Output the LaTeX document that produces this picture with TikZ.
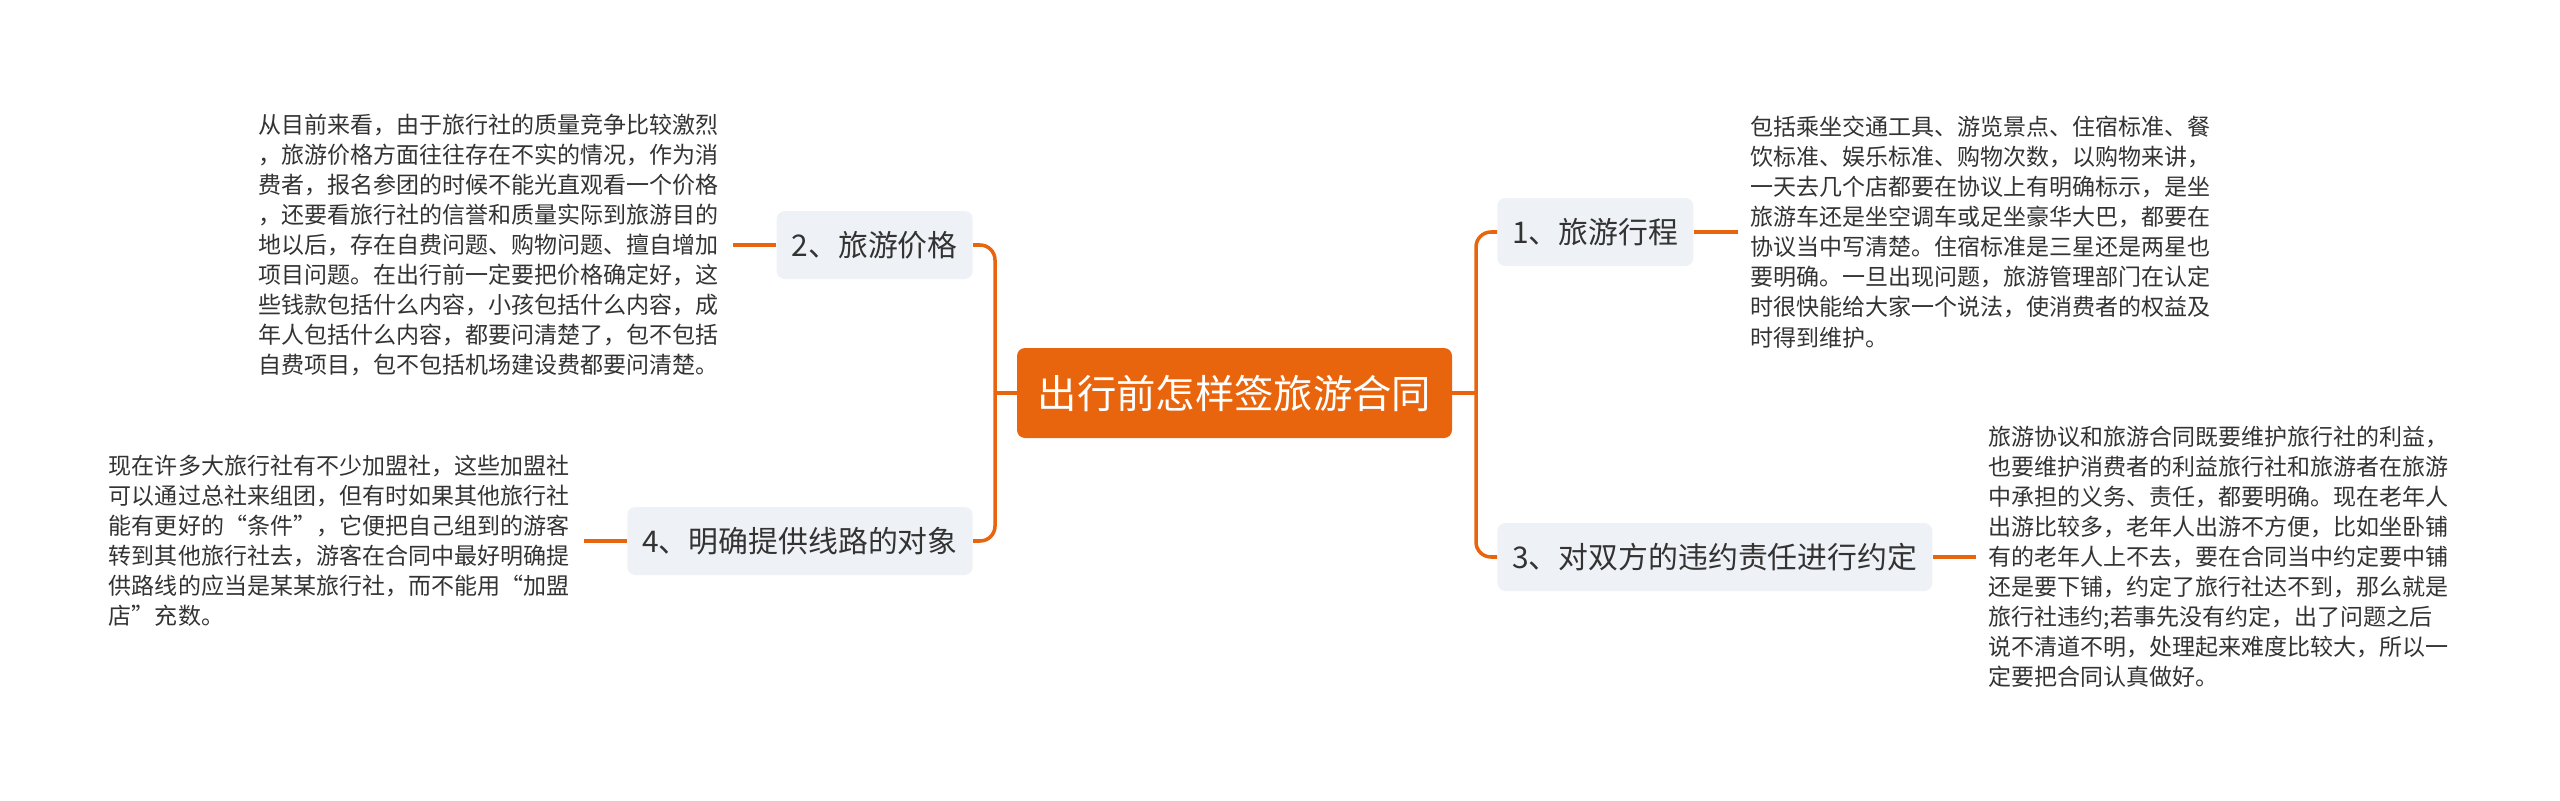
\documentclass[tikz,border=0pt]{standalone}
\usepackage{fontspec}
\setmainfont{Noto Sans CJK SC}
\usetikzlibrary{positioning}
\definecolor{rootfill}{HTML}{E9650D}
\definecolor{linkcolor}{HTML}{E9650D}
\definecolor{branchfill}{HTML}{EEF1F5}
\definecolor{inkcolor}{HTML}{333333}

\begin{document}
\begin{tikzpicture}[
  linkline/.style={draw=linkcolor, line width=2pt},
  rootbox/.style={fill=rootfill, text=white, rounded corners=0.16cm,
    minimum width=8.7cm, minimum height=1.8cm,
    font=\fontsize{22.4pt}{26pt}\selectfont},
  branchbox/.style={fill=branchfill, text=inkcolor, rounded corners=0.16cm,
    minimum height=1.36cm, inner xsep=0.3cm, inner ysep=0pt,
    font=\fontsize{17pt}{20pt}\selectfont},
  detailtext/.style={text=inkcolor, align=left, text width=263pt,
    inner xsep=0.25cm, inner ysep=0pt,
    font=\fontsize{13.1pt}{17.1pt}\selectfont}]

%%=== COORDINATE PLAN (cm, 1cm = 50px) ================================
%%  Canvas: 51.2 x 16.02
%%  Root box: x 20.34 .. 29.04, centre y = -7.86
%%  Left trunk x = 19.90   Right trunk x = 29.52
%%  Branch y: b1 = -4.64  b2 = -4.90  b3 = -11.14  b4 = -10.82
%%=====================================================================
\useasboundingbox (0,0) rectangle (51.2,-16.02);

%% --- Root ------------------------------------------------------------
\node[rootbox] (root) at (24.69,-7.86) {出行前怎样签旅游合同};
\coordinate (ltrunk) at (19.90,-7.86);
\coordinate (rtrunk) at (29.52,-7.86);

%% --- Branches --------------------------------------------------------
\node[branchbox, anchor=west] (b1) at (29.94,-4.64)  {1、旅游行程};
\node[branchbox, anchor=east] (b2) at (19.46,-4.90)  {2、旅游价格};
\node[branchbox, anchor=west] (b3) at (29.94,-11.14) {3、对双方的违约责任进行约定};
\node[branchbox, anchor=east] (b4) at (19.46,-10.82) {4、明确提供线路的对象};

%% --- Details ---------------------------------------------------------
\node[detailtext, right=0.88cm of b1] (d1) {%
包括乘坐交通工具、游览景点、住宿标准、餐\\
饮标准、娱乐标准、购物次数，以购物来讲，\\
一天去几个店都要在协议上有明确标示，是坐\\
旅游车还是坐空调车或足坐豪华大巴，都要在\\
协议当中写清楚。住宿标准是三星还是两星也\\
要明确。一旦出现问题，旅游管理部门在认定\\
时很快能给大家一个说法，使消费者的权益及\\
时得到维护。};

\node[detailtext, left=0.86cm of b2] (d2) {%
从目前来看，由于旅行社的质量竞争比较激烈\\
，旅游价格方面往往存在不实的情况，作为消\\
费者，报名参团的时候不能光直观看一个价格\\
，还要看旅行社的信誉和质量实际到旅游目的\\
地以后，存在自费问题、购物问题、擅自增加\\
项目问题。在出行前一定要把价格确定好，这\\
些钱款包括什么内容，小孩包括什么内容，成\\
年人包括什么内容，都要问清楚了，包不包括\\
自费项目，包不包括机场建设费都要问清楚。};

\node[detailtext, right=0.86cm of b3] (d3) {%
旅游协议和旅游合同既要维护旅行社的利益，\\
也要维护消费者的利益旅行社和旅游者在旅游\\
中承担的义务、责任，都要明确。现在老年人\\
出游比较多，老年人出游不方便，比如坐卧铺\\
有的老年人上不去，要在合同当中约定要中铺\\
还是要下铺，约定了旅行社达不到，那么就是\\
旅行社违约;若事先没有约定，出了问题之后\\
说不清道不明，处理起来难度比较大，所以一\\
定要把合同认真做好。};

\node[detailtext, left=0.86cm of b4] (d4) {%
现在许多大旅行社有不少加盟社，这些加盟社\\
可以通过总社来组团，但有时如果其他旅行社\\
能有更好的“条件”，它便把自己组到的游客\\
转到其他旅行社去，游客在合同中最好明确提\\
供路线的应当是某某旅行社，而不能用“加盟\\
店”充数。};

%% --- Connectors ------------------------------------------------------
\draw[linkline] (root.west) -- (ltrunk);
\draw[linkline, rounded corners=0.3cm] (b2.east) -| (ltrunk);
\draw[linkline, rounded corners=0.3cm] (b4.east) -| (ltrunk);
\draw[linkline] (root.east) -- (rtrunk);
\draw[linkline, rounded corners=0.3cm] (b1.west) -| (rtrunk);
\draw[linkline, rounded corners=0.3cm] (b3.west) -| (rtrunk);

\draw[linkline] (b1.east) -- (d1.west);
\draw[linkline] (b2.west) -- (d2.east);
\draw[linkline] (b3.east) -- (d3.west);
\draw[linkline] (b4.west) -- (d4.east);

\end{tikzpicture}
\end{document}
